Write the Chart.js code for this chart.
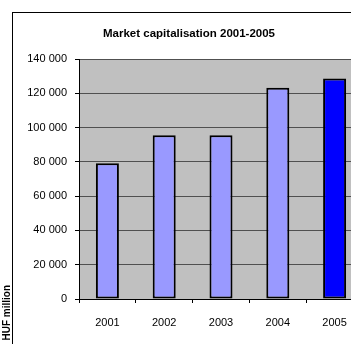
<!DOCTYPE html>
<html>
<head>
<meta charset="utf-8">
<script src="https://cdn.jsdelivr.net/npm/chart.js@4"></script>
<style>
  html, body { margin: 0; padding: 0; overflow: hidden; background: #fff; }
  canvas { display: block; }
</style>
</head>
<body>
<canvas id="myChartBar" width="375" height="370"></canvas>
<script>
var years = ['2001', '2002', '2003', '2004', '2005'];
var capValues = [79200, 95600, 95600, 123200, 128600];
var barColors = ['#9999FF', '#9999FF', '#9999FF', '#9999FF', '#0000FF'];
var yTickLabels = ['0', '20 000', '40 000', '60 000', '80 000', '100 000', '120 000', '140 000'];

// grey plot area, outer frame and the rotated unit label
const decor = {
  id: 'decor',
  beforeDraw(chart) {
    const c = chart.ctx, a = chart.chartArea;
    c.save();
    c.fillStyle = '#C0C0C0';
    c.fillRect(a.left, a.top, a.right - a.left, a.bottom - a.top);
    c.strokeStyle = '#000';
    c.lineWidth = 1;
    c.strokeRect(12.5, 12.5, 500, 500);
    c.restore();
  },
  afterDraw(chart) {
    const c = chart.ctx;
    c.save();
    c.translate(10, 285);
    c.rotate(-Math.PI / 2);
    c.font = 'bold 10px "Liberation Sans", Arial';
    c.fillStyle = '#000';
    c.textAlign = 'right';
    c.textBaseline = 'alphabetic';
    c.fillText('HUF million', 0, 0);
    c.restore();
  }
};

new Chart(document.getElementById('myChartBar'), {
  type: 'bar',
  data: {
    labels: years,
    datasets: [{
      label: 'Market capitalisation',
      data: capValues,
      backgroundColor: barColors,
      borderColor: '#000',
      borderWidth: 2,
      borderSkipped: false,
      categoryPercentage: 1,
      barPercentage: 0.405
    }]
  },
  options: {
    responsive: false,
    animation: false,
    layout: { padding: { top: 12, left: 15, right: 12, bottom: 42 } },
    plugins: {
      legend: { display: false },
      tooltip: { enabled: false },
      title: {
        display: true,
        text: 'Market capitalisation 2001-2005',
        color: '#000',
        font: { family: '"Liberation Sans", Arial', size: 11.5, weight: 'bold', lineHeight: 1.05 },
        padding: { top: 16, bottom: 19 }
      }
    },
    scales: {
      x: {
        afterFit(scale) { scale.height = 29; },
        grid: { drawOnChartArea: false, drawTicks: true, tickLength: 4, color: '#000', offset: true },
        border: { color: '#000', width: 1 },
        ticks: { color: '#000', padding: 13, maxRotation: 0, autoSkip: false, font: { family: '"Liberation Sans", Arial', size: 11 } }
      },
      y: {
        min: 0,
        max: 140000,
        afterFit(scale) { scale.width = 64; },
        grid: { color: '#505050', lineWidth: 1, tickLength: 4, drawTicks: true, tickColor: '#000' },
        border: { color: '#000', width: 1 },
        ticks: {
          stepSize: 20000,
          padding: 8,
          color: '#000',
          font: { family: '"Liberation Sans", Arial', size: 11 },
          callback: function (v, i) { return yTickLabels[i]; }
        }
      }
    }
  },
  plugins: [decor]
});
</script>
</body>
</html>
